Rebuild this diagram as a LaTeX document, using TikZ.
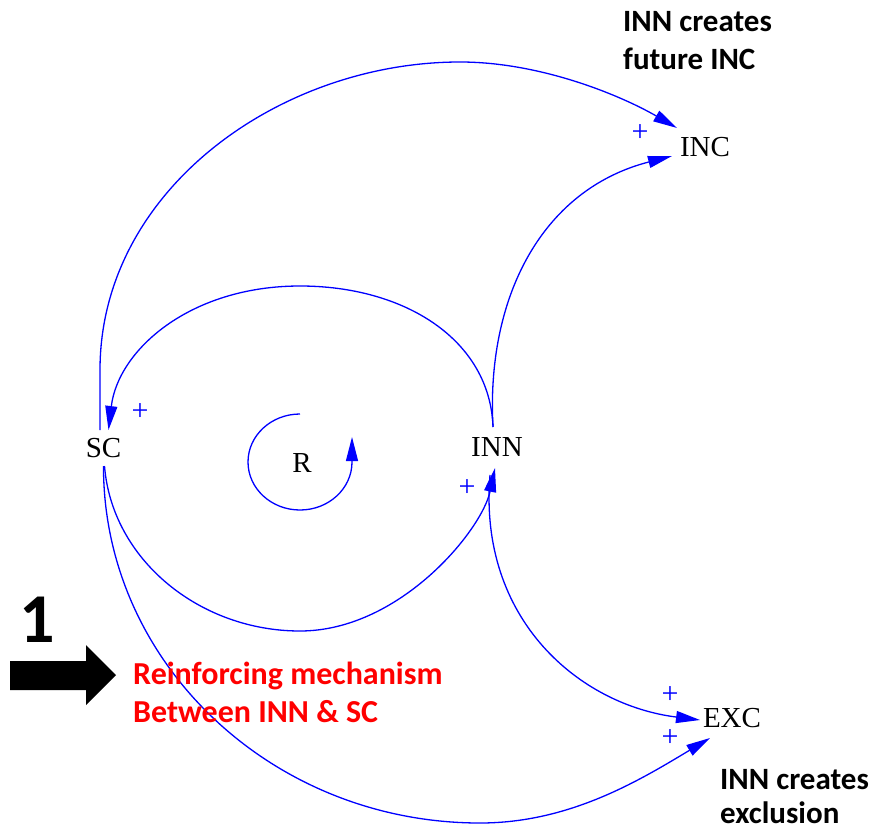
\documentclass[tikz,border=0pt]{standalone}
\usepackage{fontspec}
\setmainfont{Liberation Serif}
\newfontfamily\notefont{Carlito}
\usetikzlibrary{arrows.meta,calc}
\begin{document}
\begin{tikzpicture}[x=1pt,y=-1pt,
  link/.style={draw=blue, line width=1.3pt, -{Triangle[length=24pt,width=12pt]}},
  var/.style={font=\fontsize{29}{34}\selectfont, inner sep=0pt, text=black},
  sign/.style={text=blue, font=\fontsize{30}{30}\selectfont, inner sep=0pt},
  note/.style={font=\notefont\bfseries\fontsize{31}{38}\selectfont, align=left, anchor=north west, inner sep=0pt}]
\useasboundingbox (0,0) rectangle (874,832);

% variables
\node[var] (SC)  at (103.5,448) {SC};
\node[var] (INN) at (497,447) {INN};
\node[var] (R)   at (302,463) {R};
\node[var] (INC) at (705,147) {INC};
\node[var] (EXC) at (732,718) {EXC};

% causal links
\draw[link] ($(SC)+(-3.5,-18)$) -- (100,370) .. controls (100,190) and (280,62) .. (460,62)
            .. controls (540,62) and (620,95) .. ($(INC)+(-28,-19)$);
\draw[link] ($(INN)+(-4,-20)$) .. controls (486,300) and (540,190) .. ($(INC)+(-33,9)$);
\draw[link] ($(INN)+(-4,-20)$) .. controls (490,340) and (405,286) .. (300,286)
            .. controls (190,286) and (118,350) .. ($(SC)+(5,-18)$);
\draw[link] ($(SC)+(1,18)$) .. controls (112,560) and (200,631) .. (300,631)
            .. controls (400,631) and (482,530) .. ($(INN)+(-2,21)$);
\draw[link] ($(INN)+(-7,28)$) .. controls (478,620) and (580,705) .. ($(EXC)+(-32,2)$);
\draw[link] ($(SC)+(0,18)$) .. controls (103,663) and (272,823) .. (480,823)
            .. controls (570,823) and (640,780) .. ($(EXC)+(-22,20)$);

% loop marker
\draw[link] ($(R)+(-2,-49)$) arc[start angle=-90, end angle=-360, x radius=52, y radius=48] -- ++(0,-25);

% polarity signs
\node[sign] (sINC)  at (640,133) {+};
\node[sign] (sSC)   at (140,412) {+};
\node[sign] (sINN)  at (467,488) {+};
\node[sign] (sEXC1) at (670,695) {+};
\node[sign] (sEXC2) at (670,738) {+};

% annotations
\node[note] (noteInc) at (623,11) {INN creates\\future INC};
\node[note, font=\notefont\bfseries\fontsize{31}{34}\selectfont] (noteExc) at (720,769) {INN creates\\exclusion};
\node[note, text=red, font=\notefont\bfseries\fontsize{32}{38}\selectfont] (noteR) at (133,662) {Reinforcing mechanism\\Between INN \& SC};
\node[font=\notefont\bfseries\fontsize{70}{70}\selectfont, anchor=base west, inner sep=0pt] (num) at (19,642) {1};
\fill[black] (10,661) -- (86,661) -- (86,645) -- (116,675) -- (86,705) -- (86,690) -- (10,690) -- cycle;
\end{tikzpicture}
\end{document}
